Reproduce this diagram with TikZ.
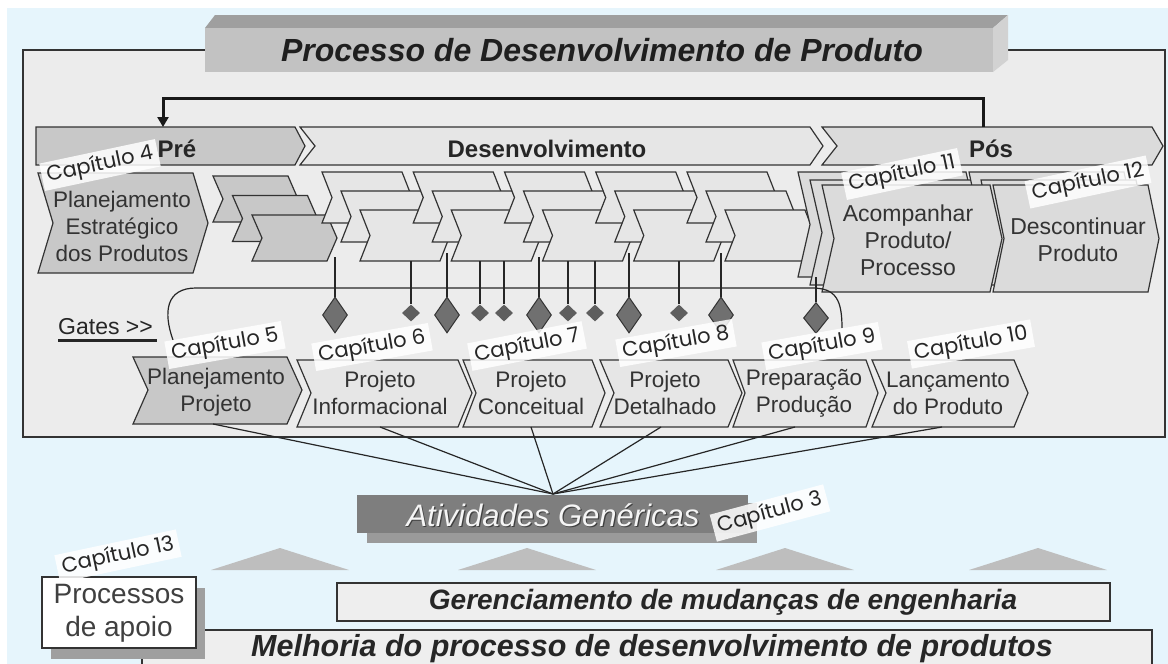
\documentclass[tikz,border=0pt]{standalone}
\usepackage{fontspec}
\setmainfont{Liberation Sans}
\newfontfamily\capfont{Poppins}
\usetikzlibrary{shapes.geometric,arrows.meta}
\definecolor{bgblue}{HTML}{E6F5FC}
\definecolor{panelc}{HTML}{ECECEC}
\definecolor{edge}{HTML}{333333}
\definecolor{lightc}{HTML}{E6E6E6}
\definecolor{grayc}{HTML}{C8C8C8}
\definecolor{posc}{HTML}{DBDBDB}
\definecolor{diamc}{HTML}{707070}
\definecolor{diamsc}{HTML}{5E5E5E}
\definecolor{titlefront}{HTML}{C2C2C2}
\definecolor{titletop}{HTML}{9F9F9F}
\definecolor{titleside}{HTML}{D2D2D2}
\definecolor{txtc}{HTML}{333333}
\definecolor{agmain}{HTML}{7E7E7E}
\definecolor{agshadow}{HTML}{9A9A9A}
\definecolor{trianc}{HTML}{BEBEBE}
\definecolor{boxc}{HTML}{EEEEEE}
\newcommand{\chevshape}[6]{\draw[#6] (#1,#2) -- ++(#3,0) -- ++(#5,#4/2) -- ++(-#5,#4/2) -- ++(-#3,0) -- ++(#5,-#4/2) -- cycle;}
\tikzset{
  chev/.style={draw=edge, line width=1.2},
  conn/.style={draw=black!85, line width=1.2},
  txt/.style={font=\fontsize{22.5}{27}\selectfont, text=txtc, align=center, inner sep=0},
  boldtxt/.style={font=\fontsize{24}{28}\selectfont\bfseries, text=black!85, inner sep=0},
  bigd/.style={diamond, draw=edge, fill=diamc, line width=1, minimum width=25, minimum height=36, inner sep=0},
  smalld/.style={diamond, fill=diamsc, minimum width=18, minimum height=17, inner sep=0},
  caplab/.style={font=\capfont\fontsize{21}{21}\selectfont, text=black!85, fill=white, fill opacity=0.85, text opacity=1, inner xsep=5, inner ysep=3, rotate=#1},
  caplab/.default=11
}
\begin{document}
\begin{tikzpicture}[x=1pt,y=-1pt,line join=miter]
\useasboundingbox (0,0) rectangle (1168,664);
\fill[white] (0,0) rectangle (1168,664);
\fill[bgblue] (7,8) rectangle (1168,664);
% main panel
\draw[fill=panelc, draw=edge, line width=1.3] (23,50) rectangle (1165,437);
% title box
\fill[titletop] (205,28) -- (215,15) -- (1008,15) -- (993,28) -- cycle;
\fill[titleside] (993,28) -- (1008,15) -- (1008,60) -- (993,72) -- cycle;
\fill[titlefront] (205,28) rectangle (993,72);
\node[anchor=base, font=\fontsize{32}{36}\selectfont\bfseries\itshape, text=black!88, inner sep=0] (title) at (602,61) {Processo de Desenvolvimento de Produto};
% phase bars
\draw[chev, fill=grayc] (36,127) -- (295,127) -- (305,146) -- (295,165) -- (36,165) -- cycle;
\draw[chev, fill=lightc] (300,127) -- (810,127) -- (823,146) -- (810,165) -- (300,165) -- (315,146) -- cycle;
\draw[chev, fill=posc] (822,127) -- (1152,127) -- (1163,146) -- (1152,165) -- (822,165) -- (837,146) -- cycle;
\node[boldtxt, anchor=base] (pre) at (177,157) {Pré};
\node[boldtxt, anchor=base] (dev) at (547,157) {Desenvolvimento};
\node[boldtxt, anchor=base] (pos) at (991,157) {Pós};
% feedback arrow
\coordinate (posTop) at (983,127);
\coordinate (preTop) at (163,127);
\draw[line width=3, black!90, -{Triangle[length=10,width=11]}] (posTop) -- (983,98) -| (preTop);
% strategic planning chevron
\draw[chev, fill=grayc] (38,173) -- (193,173) -- (208,223) -- (193,273) -- (38,273) -- (53,223) -- cycle;
\node[txt] (pep) at (122,226) {Planejamento\\Estratégico\\dos Produtos};
% gray stack
\foreach \r in {0,1,2}{
  \pgfmathsetmacro\xx{213+19.5*\r}
  \pgfmathsetmacro\yy{176+19.5*\r}
  \chevshape{\xx}{\yy}{75}{46}{10}{chev,fill=grayc}
}
% development stacks
\foreach \i in {0,...,4}{
  \foreach \r in {0,1,2}{
    \pgfmathsetmacro\xx{322+91.25*\i+19*\r}
    \pgfmathsetmacro\yy{172+19*\r}
    \chevshape{\xx}{\yy}{80}{51}{10}{chev,fill=lightc}
  }
}
% post stacks
\chevshape{798}{172}{168}{105}{12}{chev,fill=posc}
\chevshape{810}{180}{168}{105}{12}{chev,fill=posc}
\chevshape{969}{172}{155}{105}{11}{chev,fill=posc}
\chevshape{981}{180}{155}{105}{11}{chev,fill=posc}
\chevshape{822}{185}{168}{107}{12}{chev,fill=posc}
\chevshape{993}{185}{155}{107}{11}{chev,fill=posc}
\node[txt, font=\fontsize{23}{27}\selectfont] (acomp) at (908,240) {Acompanhar\\Produto/\\Processo};
\node[txt, font=\fontsize{23}{27}\selectfont] (desc) at (1078,240) {Descontinuar\\Produto};
% gates bracket
\draw[conn] (173,340) .. controls (163,312) and (166,288) .. (196,288) -- (812,288) .. controls (836,288) and (842,300) .. (842,328);
% gates
\foreach \n/\x/\ys/\yc/\t in {1/335/257/315/bigd, 2/411/261/313/smalld, 3/447/253/315/bigd, 4/480/261/313/smalld, 5/504/261/313/smalld, 6/539/257/315/bigd, 7/568/261/313/smalld, 8/595/261/313/smalld, 9/629/253/315/bigd, 10/679/261/313/smalld, 11/721/253/315/bigd}{
  \coordinate (s\n) at (\x,\ys);
  \node[\t] (g\n) at (\x,\yc) {};
  \draw[conn] (s\n) -- (g\n.north);
}
\coordinate (s12) at (816,277);
\node[bigd, minimum height=31] (g12) at (816,318) {};
\draw[conn] (s12) -- (g12.north);
\node[anchor=base west, font=\fontsize{23}{23}\selectfont, text=black!85, inner sep=0] (gates) at (58,334) {Gates >{}>};
\draw[line width=3, black!85] ([yshift=-6pt]gates.base west) -- ([yshift=-6pt,xshift=4pt]gates.base east);
% lower phase chevrons
\draw[chev, fill=grayc] (133,357) -- (287,357) -- (302,390) -- (287,424) -- (133,424) -- (148,390) -- cycle;
\draw[chev, fill=lightc] (297,360) -- (458,360) -- (472,393) -- (458,427) -- (297,427) -- (311,393) -- cycle;
\draw[chev, fill=lightc] (463,360) -- (592,360) -- (605,393) -- (592,427) -- (463,427) -- (476,393) -- cycle;
\draw[chev, fill=lightc] (600,360) -- (728,360) -- (742,393) -- (728,427) -- (600,427) -- (614,393) -- cycle;
\draw[chev, fill=lightc] (733,360) -- (866,360) -- (878,393) -- (866,427) -- (733,427) -- (745,393) -- cycle;
\draw[chev, fill=lightc] (872,360) -- (1014,360) -- (1028,393) -- (1014,427) -- (872,427) -- (886,393) -- cycle;
\node[txt] (pp) at (216,392) {Planejamento\\Projeto};
\node[txt] (pi) at (380,393) {Projeto\\Informacional};
\node[txt] (pc) at (531,393) {Projeto\\Conceitual};
\node[txt] (pd) at (665,393) {Projeto\\Detalhado};
\node[txt] (ppr) at (804,393) {Preparação\\Produção};
\node[txt] (pl) at (948,393) {Lançamento\\do Produto};
% generic activities
\coordinate (agtop) at (553,494);
\coordinate (b1) at (213,424);
\coordinate (b2) at (380,427);
\coordinate (b3) at (531,427);
\coordinate (b4) at (661,427);
\coordinate (b5) at (795,427);
\coordinate (b6) at (942,427);
\foreach \b in {b1,b2,b3,b4,b5,b6}{\draw[conn] (\b) -- (agtop);}
\fill[agshadow] (367,503) rectangle (757,543);
\fill[agmain] (357,495) rectangle (748,533);
\node[font=\fontsize{31}{31}\selectfont\itshape, text=black!75, inner sep=0] at (554.2,516.2) {Atividades Genéricas};
\node[font=\fontsize{31}{31}\selectfont\itshape, text=white!96!black, inner sep=0] (ag) at (553,515) {Atividades Genéricas};
% triangles
\foreach \c in {280,527,785,1038}{
  \fill[trianc] (\c-69,570) -- (\c,548) -- (\c+69,570) -- cycle;
}
% bottom bars
\draw[fill=boxc, draw=edge, line width=1.2] (142,630) rectangle (1152,680);
\node[font=\fontsize{30.5}{30.5}\selectfont\bfseries\itshape, text=black!85, inner sep=0] (melh) at (652,649) {Melhoria do processo de desenvolvimento de produtos};
\draw[fill=boxc, draw=edge, line width=1.2] (337,583) rectangle (1110,621);
\node[font=\fontsize{28}{28}\selectfont\bfseries\itshape, text=black!85, inner sep=0] (ger) at (723,602) {Gerenciamento de mudanças de engenharia};
\fill[gray!75] (51,588) rectangle (205,659);
\draw[fill=white, draw=edge, line width=1.2] (42,577) rectangle (196,648);
\node[txt, font=\fontsize{28}{33}\selectfont, text=black!75] (apoio) at (119,613) {Processos\\de apoio};
% chapter labels
\node[caplab=12] (c4) at (100,165) {Capítulo 4};
\node[caplab=12] (c11) at (902,174) {Capítulo 11};
\node[caplab=12] (c12) at (1088,182) {Capítulo 12};
\node[caplab=10] (c5) at (225,345) {Capítulo 5};
\node[caplab=10] (c6) at (372,347) {Capítulo 6};
\node[caplab=11] (c7) at (527,346) {Capítulo 7};
\node[caplab=10] (c8) at (676,343) {Capítulo 8};
\node[caplab=10] (c9) at (822,346) {Capítulo 9};
\node[caplab=10] (c10) at (971,344) {Capítulo 10};
\node[caplab=15] (c3) at (770,513) {Capítulo 3};
\node[caplab=12] (c13) at (118,556) {Capítulo 13};
\end{tikzpicture}
\end{document}
